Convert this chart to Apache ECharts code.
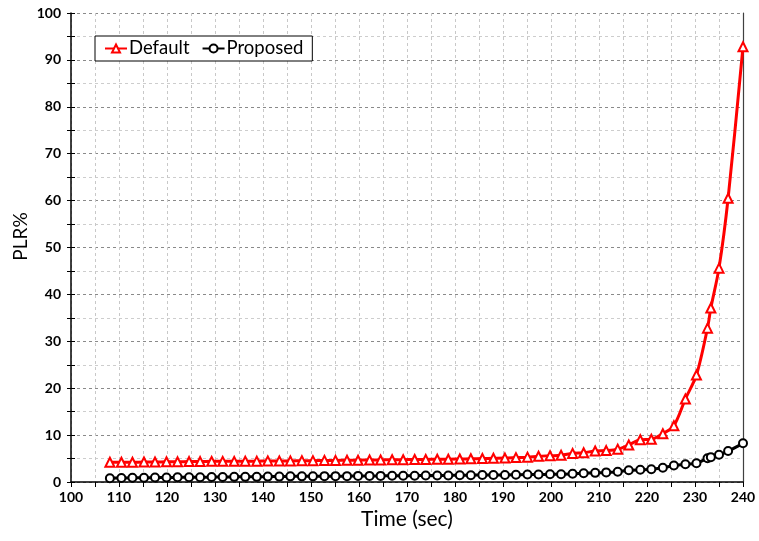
<!DOCTYPE html>
<html>
<head>
<meta charset="utf-8">
<script src="https://cdn.jsdelivr.net/npm/echarts@6/dist/echarts.min.js"></script>
<style>
html,body{margin:0;padding:0;background:#fff;}
#chart{width:759px;height:541px;}
</style>
</head>
<body>
<div id="chart"></div>
<script>
// Time (sec) sample points
var timeValues = [108.1,110.5,112.8,115.2,117.5,119.9,122.2,124.6,126.9,129.3,131.6,134.0,136.3,138.7,141.0,143.4,145.7,148.1,150.4,152.8,155.1,157.5,159.8,162.2,164.5,166.9,169.2,171.6,173.9,176.3,178.6,181.0,183.3,185.7,188.0,190.4,192.7,195.1,197.4,199.8,202.1,204.5,206.8,209.2,211.5,213.9,216.2,218.6,220.9,223.3,225.6,228.0,230.3,232.6,233.3,235.0,236.9,240.0];
// PLR% for "Default"
var defaultValues = [4.2,4.2,4.2,4.25,4.25,4.3,4.3,4.35,4.35,4.4,4.4,4.4,4.45,4.45,4.5,4.5,4.5,4.55,4.55,4.6,4.6,4.65,4.65,4.7,4.7,4.75,4.75,4.8,4.8,4.85,4.85,4.9,4.95,5.0,5.05,5.1,5.2,5.3,5.5,5.6,5.7,6.1,6.25,6.6,6.7,7.0,7.9,9.0,9.1,10.3,12.0,17.7,22.8,32.8,37.1,45.6,60.5,92.8];
// PLR% for "Proposed"
var proposedValues = [0.8,0.85,0.9,0.9,0.95,0.95,1.0,1.0,1.0,1.05,1.05,1.1,1.1,1.1,1.15,1.15,1.2,1.2,1.2,1.25,1.25,1.25,1.3,1.3,1.3,1.35,1.35,1.35,1.4,1.4,1.4,1.45,1.45,1.5,1.5,1.5,1.55,1.6,1.6,1.65,1.65,1.75,1.85,1.95,2.05,2.2,2.5,2.6,2.7,3.05,3.5,3.8,4.0,5.05,5.3,5.8,6.6,8.25];
var seriesNames = ['Default','Proposed'];
var xAxisTitle = 'Time (sec)';
var yAxisTitle = 'PLR%';

function pairs(xs, ys){ var out=[]; for(var i=0;i<xs.length;i++){ out.push([xs[i], ys[i]]); } return out; }

var fontFam = 'Lato, "Open Sans", sans-serif';
var chart = echarts.init(document.getElementById('chart'), null, {renderer:'canvas'});
chart.setOption({
  animation:false,
  backgroundColor:'#fff',
  grid:{left:71,right:16,top:13,bottom:59},
  legend:{
    left:95, top:36,
    padding:[3,9,3,9],
    itemWidth:22, itemHeight:10, itemGap:12,
    borderColor:'#000', borderWidth:1, backgroundColor:'#fff',
    textStyle:{fontFamily:fontFam, fontSize:18.5, color:'#000', padding:[0,0,0,-3]},
    data:seriesNames
  },
  xAxis:{
    type:'value', min:100, max:240, interval:10,
    name:xAxisTitle, nameLocation:'middle', nameGap:26,
    nameTextStyle:{fontFamily:fontFam, fontSize:21, color:'#000'},
    axisLine:{onZero:false, lineStyle:{color:'#000', width:1.5}},
    axisTick:{show:true, length:5, lineStyle:{color:'#000'}},
    minorTick:{show:true, splitNumber:2, length:5, lineStyle:{color:'#000'}},
    axisLabel:{fontFamily:fontFam, fontWeight:'bold', fontSize:14, color:'#000', margin:8},
    splitLine:{show:true, lineStyle:{color:'#c8c8c8', type:[3,3], width:1}},
    minorSplitLine:{show:true, lineStyle:{color:'#c8c8c8', type:[3,3], width:1}}
  },
  yAxis:[{
    type:'value', min:0, max:100, interval:10, position:'left',
    name:yAxisTitle, nameLocation:'middle', nameGap:41, nameRotate:90,
    nameMoveOverlap:false,
    nameTextStyle:{fontFamily:fontFam, fontSize:19, color:'#000', padding:[0,0,0,22]},
    axisLine:{show:true, onZero:false, lineStyle:{color:'#000', width:1.5}},
    axisTick:{show:true, length:4, lineStyle:{color:'#000'}},
    minorTick:{show:true, splitNumber:2, length:4, lineStyle:{color:'#000'}},
    axisLabel:{fontFamily:fontFam, fontWeight:'bold', fontSize:14, color:'#000', margin:10},
    splitLine:{show:true, lineStyle:{color:'#8a8a8a', type:[3,3], width:1}},
    minorSplitLine:{show:true, lineStyle:{color:'#cdcdcd', type:[3,3], width:1}}
  },{
    type:'value', min:0, max:100, interval:10, position:'left',
    axisLine:{show:false},
    axisTick:{show:true, inside:true, length:4, lineStyle:{color:'#000'}},
    minorTick:{show:true, splitNumber:2, length:4, lineStyle:{color:'#000'}},
    axisLabel:{show:false}, splitLine:{show:false}
  },{
    type:'value', min:0, max:100, interval:10, position:'right',
    axisLine:{show:true, onZero:false, lineStyle:{color:'#404040', width:1.2}},
    axisTick:{show:false}, axisLabel:{show:false}, splitLine:{show:false}
  }],
  series:[{
    name:seriesNames[0], type:'line', yAxisIndex:0,
    data:pairs(timeValues, defaultValues),
    smooth:0.3,
    symbol:'emptyTriangle', symbolSize:9,
    lineStyle:{color:'#ff0000', width:3},
    itemStyle:{color:'#ff0000', borderWidth:1.5}
  },{
    name:seriesNames[1], type:'line', yAxisIndex:0,
    data:pairs(timeValues, proposedValues),
    smooth:0.3,
    symbol:'emptyCircle', symbolSize:8,
    lineStyle:{color:'#000', width:3},
    itemStyle:{color:'#000', borderWidth:1.5}
  }]
});
</script>
</body>
</html>
